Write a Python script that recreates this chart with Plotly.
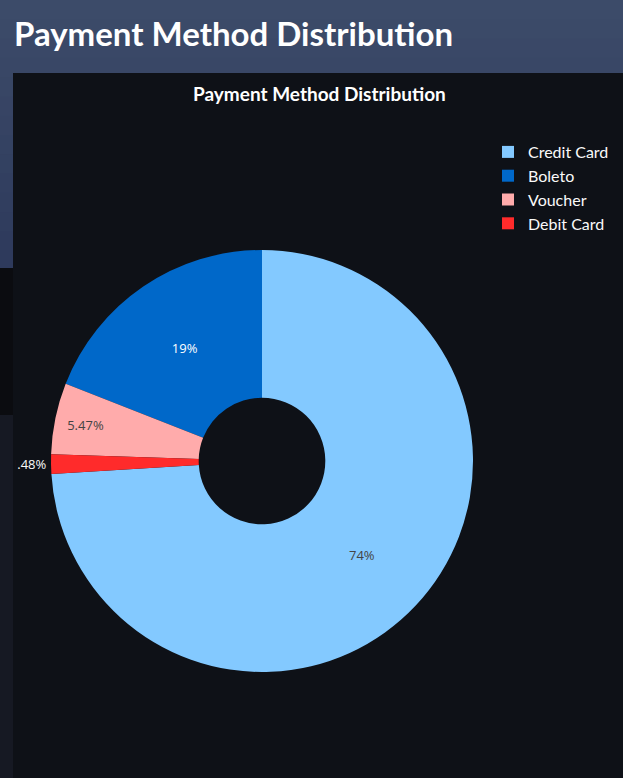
import plotly.graph_objects as go

methods = ["Credit Card", "Boleto", "Voucher", "Debit Card"]
shares = [74.02, 19.03, 5.47, 1.48]
colors = ["#83c9ff", "#0068c9", "#ffabab", "#ff2b2b"]

W, H = 623, 778

fig = go.Figure()
fig.add_trace(go.Pie(
    labels=methods,
    values=shares,
    hole=0.3,
    marker=dict(colors=colors),
    textinfo="percent",
    textfont=dict(family="Open Sans", size=13),
    domain=dict(x=[51 / W, 473 / W], y=[(778 - 672) / H, (778 - 250) / H]),
))

shapes = []
# page background gradient (header band)
top = (0x3c, 0x4b, 0x69)
bot = (0x2e, 0x3a, 0x5c)
n = 14
for i in range(n):
    t = i / (n - 1)
    c = tuple(int(round(top[k] + (bot[k] - top[k]) * t)) for k in range(3))
    y0 = i * 270 / n
    y1 = (i + 1) * 270 / n + 1
    shapes.append(dict(type="rect", xref="paper", yref="paper",
                       x0=0, x1=1, y0=1 - y1 / H, y1=1 - y0 / H,
                       line=dict(width=0), fillcolor="rgb(%d,%d,%d)" % c, layer="below"))
# left strip darker parts (above to clip outside text at the chart edge)
strip = [(268, 415, "#0b0c10"), (415, 778, "#161923")]
for y0, y1, col in strip:
    shapes.append(dict(type="rect", xref="paper", yref="paper",
                       x0=0, x1=13 / W, y0=1 - y1 / H, y1=1 - y0 / H,
                       line=dict(width=0), fillcolor=col, layer="above"))
shapes.append(dict(type="rect", xref="paper", yref="paper",
                   x0=13 / W, x1=15 / W, y0=1 - 472 / H, y1=1 - 452 / H,
                   line=dict(width=0), fillcolor="#0e1117", layer="above"))
# chart container
shapes.append(dict(type="rect", xref="paper", yref="paper",
                   x0=13 / W, x1=1, y0=0, y1=1 - 73 / H,
                   line=dict(width=0), fillcolor="#0e1117", layer="below"))

annotations = [
    dict(text="<b>Payment Method Distribution</b>", xref="paper", yref="paper",
         x=12 / W, y=1 - 33 / H, xanchor="left", yanchor="middle", showarrow=False,
         font=dict(family="Lato", size=33, color="#ffffff")),
    dict(text="<b>Payment Method Distribution</b>", xref="paper", yref="paper",
         x=319 / W, y=1 - 94 / H, xanchor="center", yanchor="middle", showarrow=False,
         font=dict(family="Lato", size=19, color="#ffffff")),
]

fig.update_layout(
    width=W, height=H,
    margin=dict(l=0, r=0, t=0, b=0),
    paper_bgcolor="#0e1117",
    plot_bgcolor="#0e1117",
    font=dict(family="Open Sans", color="#fafafa"),
    shapes=shapes,
    annotations=annotations,
    showlegend=True,
    legend=dict(x=488 / W, y=1 - 135 / H, xanchor="left", yanchor="top",
                font=dict(family="Lato", size=16, color="#fafafa"),
                bgcolor="rgba(0,0,0,0)"),
)

fig.write_html("out.html")
